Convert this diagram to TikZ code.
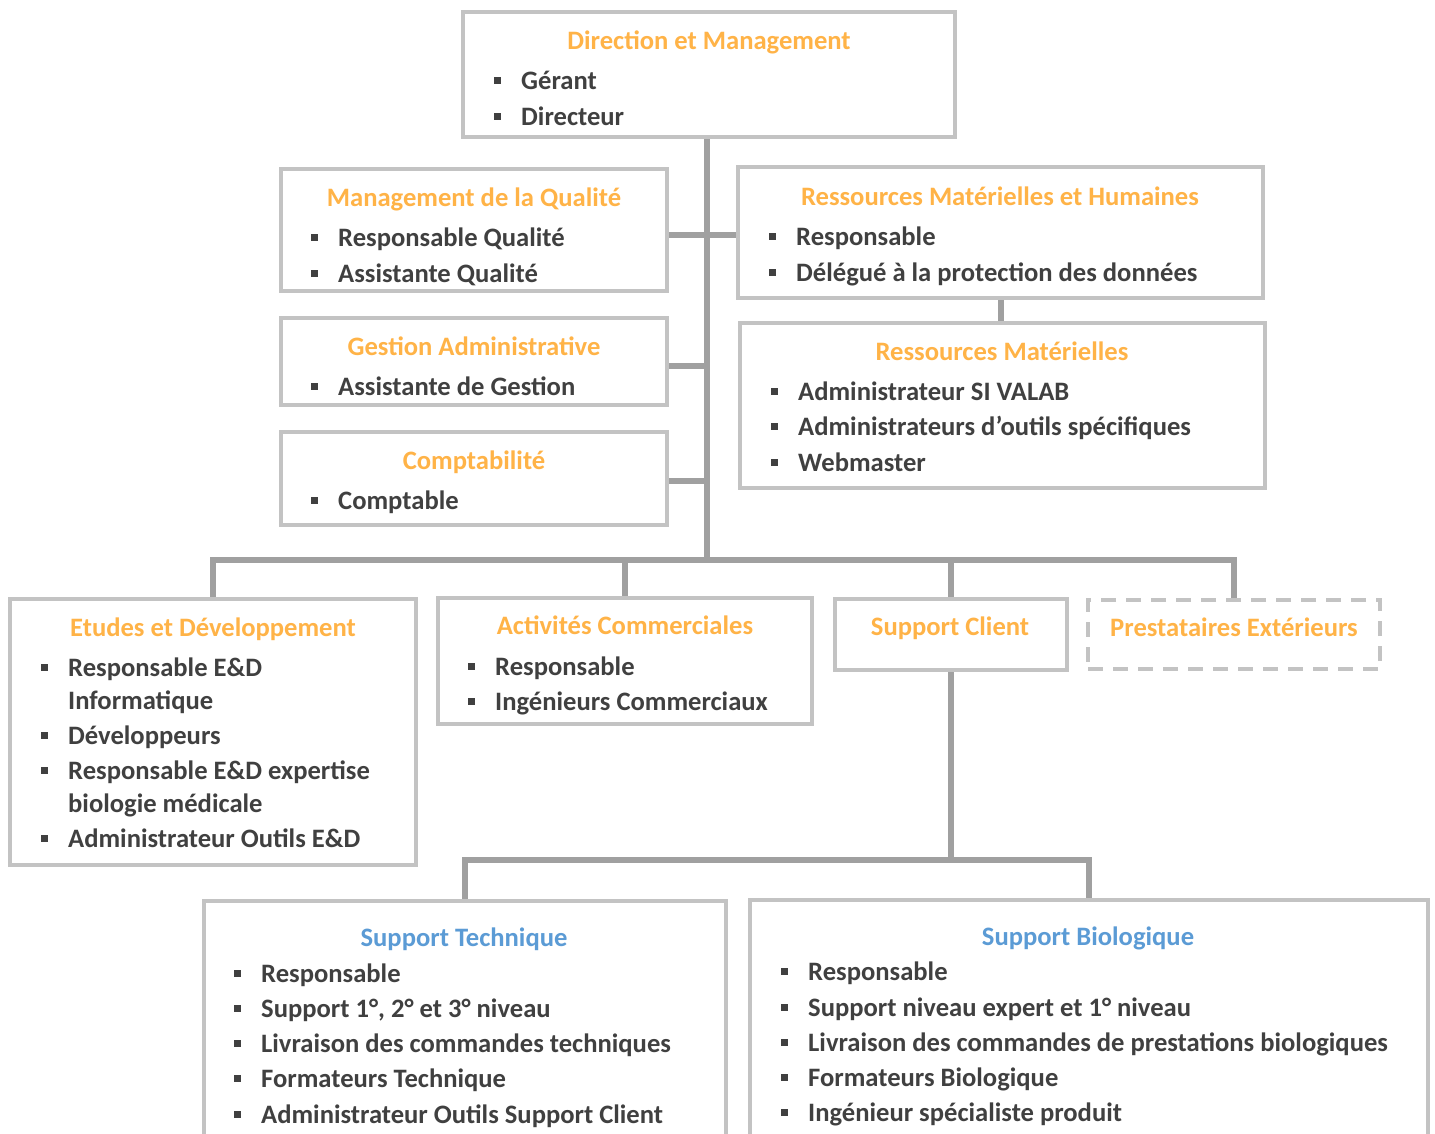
\documentclass[tikz,border=0pt]{standalone}
\usepackage{fontspec}
\setmainfont{Carlito}
\usetikzlibrary{backgrounds}
\definecolor{orng}{HTML}{FFB347}
\definecolor{blu}{HTML}{5B9BD5}
\definecolor{txt}{HTML}{404040}
\definecolor{boxc}{HTML}{C3C3C3}
\definecolor{conc}{HTML}{A0A0A0}
\newcommand\bul{\makebox[27pt][l]{\raisebox{5pt}{\rule{7pt}{7pt}}}}
\begin{document}
\begin{tikzpicture}[x=1pt,y=-1pt,
  font=\fontsize{26.6}{30}\selectfont\bfseries,
  box/.style={draw=boxc, line width=4pt, fill=white, rectangle, inner sep=0pt},
  dbox/.style={box, dash pattern=on 15pt off 10pt},
  conn/.style={draw=conc, line width=6pt},
  ttl/.style={text=orng, anchor=base, inner sep=0pt, yshift=-1pt},
  ttlb/.style={text=blu, anchor=base, inner sep=0pt, yshift=-1pt},
  itm/.style={text=txt, anchor=base west, inner sep=0pt, yshift=-1pt}]
\useasboundingbox (0,0) rectangle (1435,1133);
\clip (0,0) rectangle (1435,1133);
% boxes
\node[box, minimum width=492pt, minimum height=125pt] (dir) at (709,74.5) {};
\node[box, minimum width=386pt, minimum height=122pt] (mq) at (474,230) {};
\node[box, minimum width=525pt, minimum height=131pt] (rmh) at (1000.5,232.5) {};
\node[box, minimum width=386pt, minimum height=87pt] (ga) at (474,361.5) {};
\node[box, minimum width=525pt, minimum height=165pt] (rm) at (1002.5,405.5) {};
\node[box, minimum width=386pt, minimum height=93pt] (cpt) at (474,478.5) {};
\node[box, minimum width=406pt, minimum height=266pt] (ed) at (213,732) {};
\node[box, minimum width=374pt, minimum height=126pt] (ac) at (625,661) {};
\node[box, minimum width=232pt, minimum height=71pt] (sc) at (951,634.5) {};
\node[dbox, minimum width=292pt, minimum height=69pt] (pe) at (1234,634.5) {};
\node[box, minimum width=522pt, minimum height=242pt] (st) at (465,1022) {};
\node[box, minimum width=678pt, minimum height=243pt] (sb) at (1089,1021.5) {};
% connectors
\coordinate (trunk) at (707,560);
\coordinate (q) at (707,235);
\coordinate (g) at (707,366);
\coordinate (c) at (707,481);
\coordinate (bus2) at (950,860);
\begin{scope}[on background layer]
\draw[conn] (trunk |- dir.south) -- (trunk);
\draw[conn] (ed.north) -- (ed.north |- trunk) -- (pe.north |- trunk) -- (pe.north);
\draw[conn] (ac.north |- trunk) -- (ac.north);
\draw[conn] (sc.north |- trunk) -- (sc.north);
\draw[conn] (mq.east |- q) -- (rmh.west |- q);
\draw[conn] (ga.east |- g) -- (g);
\draw[conn] (cpt.east |- c) -- (c);
\draw[conn] (rmh.south) -- (rmh.south |- rm.north);
\draw[conn] (sc.south) -- (sc.south |- bus2);
\draw[conn] (st.north) -- (st.north |- bus2) -- (sb.north |- bus2) -- (sb.north);
\end{scope}
% texts
\node[ttl] (dirT) at (709,48) {Direction et Management};
\node[itm] (dir1) at (494,88) {\bul Gérant};
\node[itm] (dir2) at (494,124) {\bul Directeur};
\node[ttl] (mqT) at (474,205) {Management de la Qualité};
\node[itm] (mq1) at (311,245) {\bul Responsable Qualité};
\node[itm] (mq2) at (311,281) {\bul Assistante Qualité};
\node[ttl] (rmhT) at (1000,204) {Ressources Matérielles et Humaines};
\node[itm] (rmh1) at (769,244) {\bul Responsable};
\node[itm] (rmh2) at (769,280) {\bul Délégué à la protection des données};
\node[ttl] (gaT) at (474,354) {Gestion Administrative};
\node[itm] (ga1) at (311,394) {\bul Assistante de Gestion};
\node[ttl] (rmT) at (1002,359) {Ressources Matérielles};
\node[itm] (rm1) at (771,399) {\bul Administrateur SI VALAB};
\node[itm] (rm2) at (771,434) {\bul Administrateurs d’outils spécifiques};
\node[itm] (rm3) at (771,470) {\bul Webmaster};
\node[ttl] (cptT) at (474,468) {Comptabilité};
\node[itm] (cpt1) at (311,508) {\bul Comptable};
\node[ttl] (edT) at (213,635) {Etudes et Développement};
\node[itm] (ed1) at (41,675) {\bul Responsable E\&D};
\node[itm] (ed1b) at (68,708) {Informatique};
\node[itm] (ed2) at (41,743) {\bul Développeurs};
\node[itm] (ed3) at (41,778) {\bul Responsable E\&D expertise};
\node[itm] (ed3b) at (68,811) {biologie médicale};
\node[itm] (ed4) at (41,846) {\bul Administrateur Outils E\&D};
\node[ttl] (acT) at (625,633) {Activités Commerciales};
\node[itm] (ac1) at (468,674) {\bul Responsable};
\node[itm] (ac2) at (468,709) {\bul Ingénieurs Commerciaux};
\node[ttl] (scT) at (950,634) {Support Client};
\node[ttl] (peT) at (1234,635) {Prestataires Extérieurs};
\node[ttlb] (stT) at (464,945) {Support Technique};
\node[itm] (st1) at (234,981) {\bul Responsable};
\node[itm] (st2) at (234,1016) {\bul Support 1°, 2° et 3° niveau};
\node[itm] (st3) at (234,1051) {\bul Livraison des commandes techniques};
\node[itm] (st4) at (234,1086) {\bul Formateurs Technique};
\node[itm] (st5) at (234,1122) {\bul Administrateur Outils Support Client};
\node[ttlb] (sbT) at (1088,944) {Support Biologique};
\node[itm] (sb1) at (781,979) {\bul Responsable};
\node[itm] (sb2) at (781,1015) {\bul Support niveau expert et 1° niveau};
\node[itm] (sb3) at (781,1050) {\bul Livraison des commandes de prestations biologiques};
\node[itm] (sb4) at (781,1085) {\bul Formateurs Biologique};
\node[itm] (sb5) at (781,1120) {\bul Ingénieur spécialiste produit};
\end{tikzpicture}
\end{document}
